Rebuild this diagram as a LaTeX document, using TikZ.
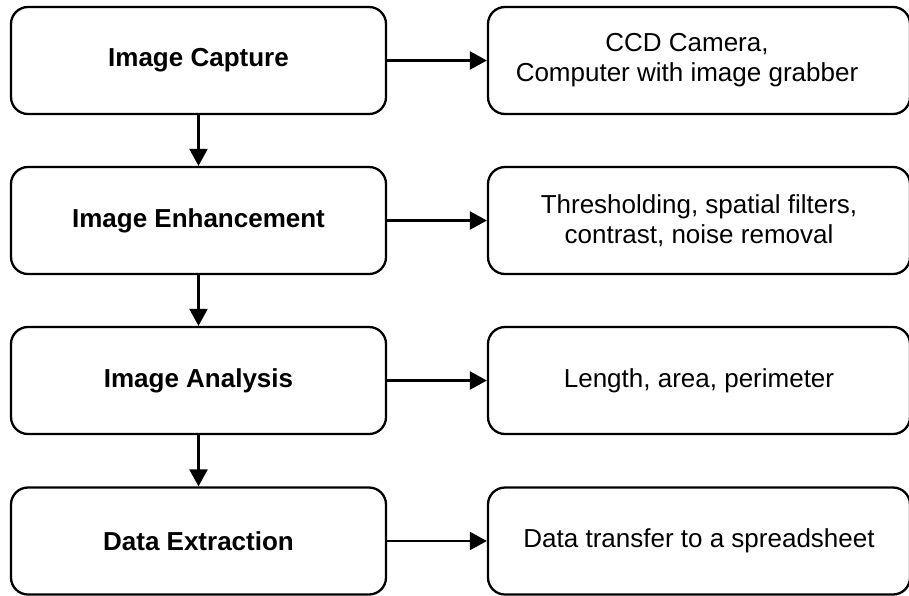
\documentclass[tikz,border=0pt]{standalone}
\usepackage{fontspec}
\setmainfont{Liberation Sans}
\usetikzlibrary{arrows.meta}
\begin{document}
\begin{tikzpicture}[x=1pt,y=-1pt,
  box/.style={draw, line width=2.3pt, rounded corners=17pt, minimum height=107pt,
    inner sep=0pt, align=center, font=\fontsize{26}{30}\selectfont},
  stage/.style={box, minimum width=375pt, font=\bfseries\fontsize{26}{30}\selectfont},
  info/.style={box, minimum width=422pt},
  flow/.style={line width=2.3pt, -{Triangle[length=17pt,width=18pt]}}]
\useasboundingbox (0,0) rectangle (909,595);

% processing stages
\node[stage] (s1) at (198.5,60.5)  {Image Capture};
\node[stage] (s2) at (198.5,220.5) {Image Enhancement};
\node[stage] (s3) at (198.5,380.5) {Image Analysis};
\node[stage] (s4) at (198.5,541)   {Data Extraction};

% tools and measures for each stage
\node[info] (d1) at (699,60.5)  {CCD Camera,\hspace*{24pt}\\Computer with image grabber\hspace*{24pt}};
\node[info] (d2) at (699,220.5) {Thresholding, spatial filters,\\contrast, noise removal};
\node[info] (d3) at (699,380.5) {Length, area, perimeter};
\node[info] (d4) at (699,541)   {Data transfer to a spreadsheet};

% flow between stages
\draw[flow] (s1) -- (s2);
\draw[flow] (s2) -- (s3);
\draw[flow] (s3) -- (s4);

% stage to details
\draw[flow] (s1) -- (d1);
\draw[flow] (s2) -- (d2);
\draw[flow] (s3) -- (d3);
\draw[flow] (s4) -- (d4);
\end{tikzpicture}
\end{document}
